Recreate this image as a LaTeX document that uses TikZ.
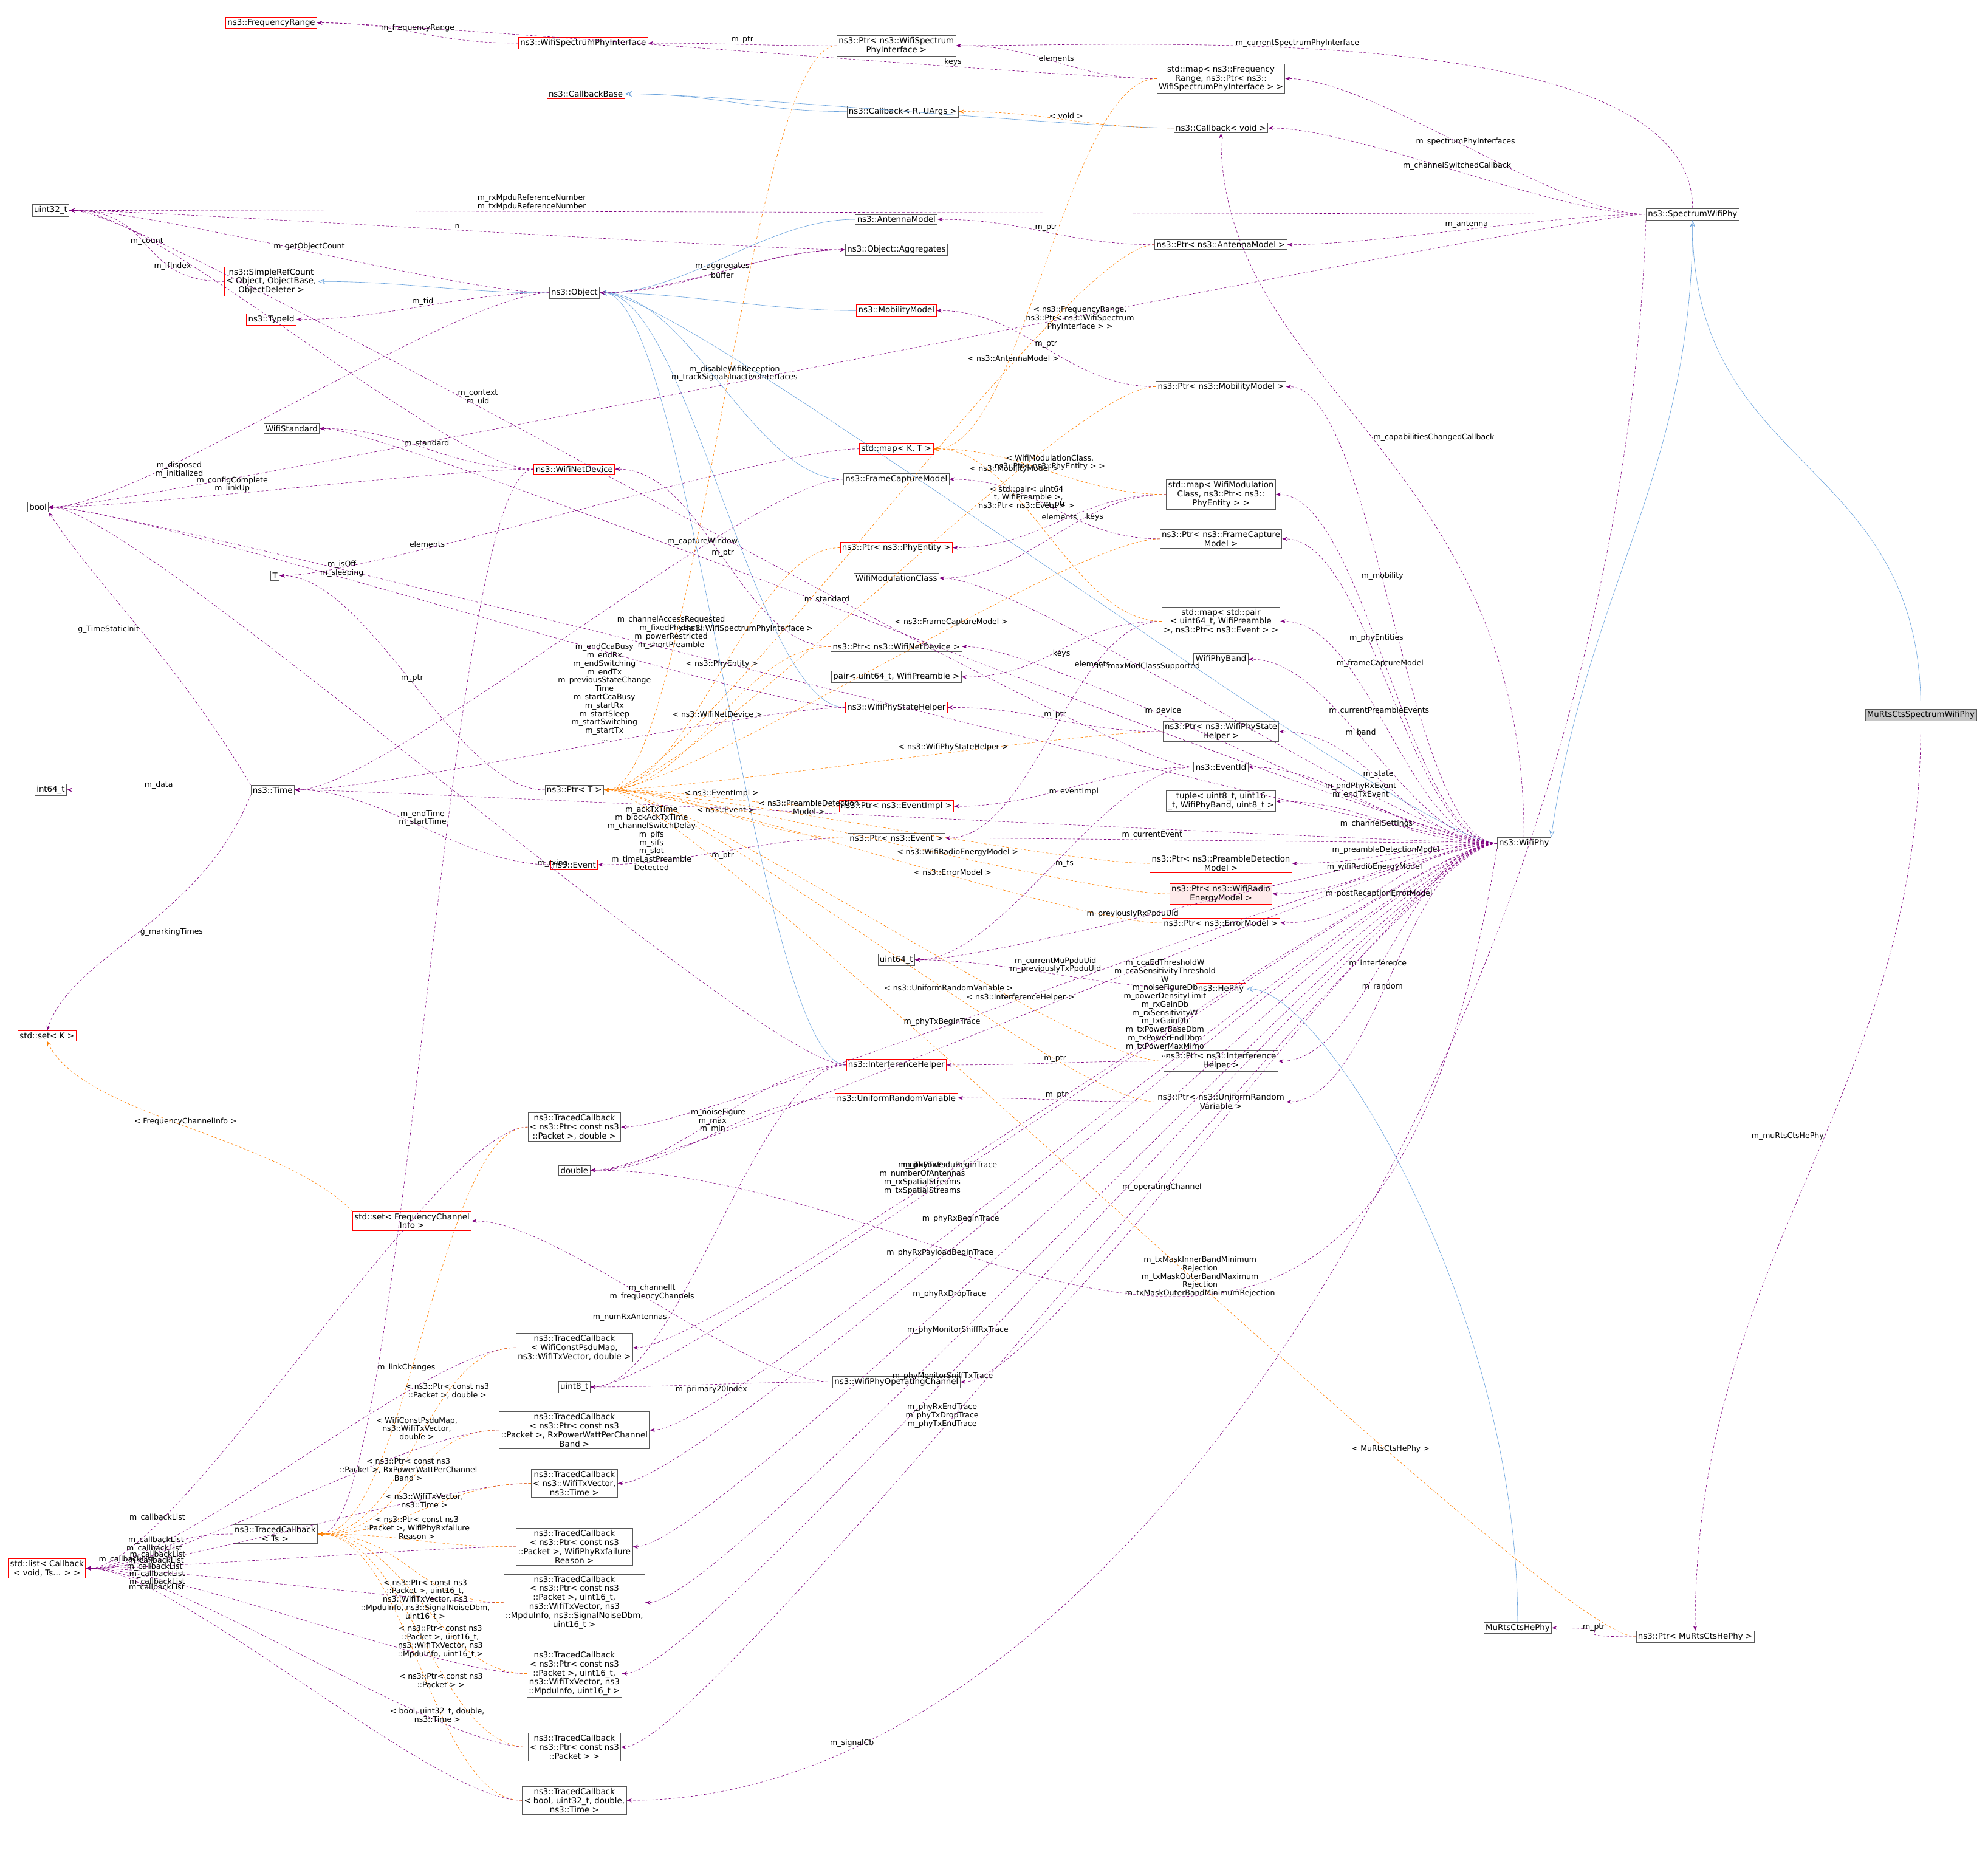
\documentclass[tikz,border=0pt]{standalone}
\usepackage{fontspec}
\setmainfont{DejaVu Sans}
\usetikzlibrary{arrows.meta}
\newcommand\E[6][]{\draw[#2,#1] (#3.west) .. controls +(-70,0) and +(70,0) .. node[lbl,#4]{#5} (#6.east);}
\begin{document}
\begin{tikzpicture}[x=1pt,y=-1pt,
 box/.style={draw=gray!70!black,fill=white,align=center,inner sep=1.4pt,font=\fontsize{6.4}{7.1}\selectfont},
 rbox/.style={box,draw=red},
 use/.style={draw=violet,dash pattern=on 2pt off 1.5pt,line width=0.3pt,-{Stealth[length=4pt]}},
 tpl/.style={draw=orange,dash pattern=on 2pt off 1.5pt,line width=0.3pt,-{Stealth[length=4pt]}},
 inh/.style={draw=cyan!60!blue!60,line width=0.3pt,-{Stealth[length=5.5pt,open]}},
 lbl/.style={font=\fontsize{6}{6.6}\selectfont,align=center,inner sep=0.7pt,midway}]
\useasboundingbox (0,0) rectangle (1568,1470);
\fill[white] (0,0) rectangle (1568,1470);
% nodes
\node[rbox] (FreqRange) at (214,18) {ns3::FrequencyRange};
\node[rbox] (WSPI) at (460,34) {ns3::WifiSpectrumPhyInterface};
\node[box] (PtrWSPI) at (707,36) {ns3::Ptr< ns3::WifiSpectrum\\PhyInterface >};
\node[rbox] (CBBase) at (462,74) {ns3::CallbackBase};
\node[box] (CBRU) at (712,88) {ns3::Callback< R, UArgs >};
\node[box] (mapFreq) at (963,62) {std::map< ns3::Frequency\\Range, ns3::Ptr< ns3::\\WifiSpectrumPhyInterface > >};
\node[box] (CBVoid) at (963,101) {ns3::Callback< void >};
\node[box] (SWP) at (1335,169) {ns3::SpectrumWifiPhy};
\node[box,fill=gray!45] (MuRts) at (1515,564) {MuRtsCtsSpectrumWifiPhy};
\node[box] (u32) at (40,166) {uint32\_t};
\node[box] (Antenna) at (707,173) {ns3::AntennaModel};
\node[box] (Aggr) at (707,197) {ns3::Object::Aggregates};
\node[box] (PtrAnt) at (963,193) {ns3::Ptr< ns3::AntennaModel >};
\node[rbox] (SRC) at (214,222) {ns3::SimpleRefCount\\< Object, ObjectBase,\\ObjectDeleter >};
\node[box] (Object) at (453,231) {ns3::Object};
\node[rbox] (TypeId) at (214,252) {ns3::TypeId};
\node[rbox] (Mobility) at (707,245) {ns3::MobilityModel};
\node[box] (PtrMob) at (963,305) {ns3::Ptr< ns3::MobilityModel >};
\node[box] (Std) at (230,338) {WifiStandard};
\node[box] (bool) at (30,400) {bool};
\node[rbox] (NetDev) at (453,370) {ns3::WifiNetDevice};
\node[rbox] (mapK) at (707,354) {std::map< K, T >};
\node[box] (FCM) at (707,378) {ns3::FrameCaptureModel};
\node[box] (mapWMC) at (963,390) {std::map< WifiModulation\\Class, ns3::Ptr< ns3::\\PhyEntity > >};
\node[rbox] (PtrPE) at (707,432) {ns3::Ptr< ns3::PhyEntity >};
\node[box] (WMC) at (707,456) {WifiModulationClass};
\node[box] (PtrFCM) at (963,425) {ns3::Ptr< ns3::FrameCapture\\Model >};
\node[box] (T) at (217,454) {T};
\node[box] (mapPair) at (963,490) {std::map< std::pair\\< uint64\_t, WifiPreamble\\>, ns3::Ptr< ns3::Event > >};
\node[box] (PtrND) at (707,510) {ns3::Ptr< ns3::WifiNetDevice >};
\node[box] (Band) at (963,520) {WifiPhyBand};
\node[box] (pair) at (707,534) {pair< uint64\_t, WifiPreamble >};
\node[rbox] (PSH) at (707,558) {ns3::WifiPhyStateHelper};
\node[box] (PtrPSH) at (963,577) {ns3::Ptr< ns3::WifiPhyState\\Helper >};
\node[box] (i64) at (40,623) {int64\_t};
\node[box] (Time) at (215,623) {ns3::Time};
\node[box] (PtrT) at (453,623) {ns3::Ptr< T >};
\node[box] (EventId) at (963,605) {ns3::EventId};
\node[box] (tuple) at (963,632) {tuple< uint8\_t, uint16\\\_t, WifiPhyBand, uint8\_t >};
\node[rbox] (PtrEI) at (707,636) {ns3::Ptr< ns3::EventImpl >};
\node[box] (PtrEv) at (707,661) {ns3::Ptr< ns3::Event >};
\node[box] (WifiPhy) at (1202,665) {ns3::WifiPhy};
\node[rbox] (Event) at (453,682) {ns3::Event};
\node[rbox] (PtrPDM) at (963,681) {ns3::Ptr< ns3::PreambleDetection\\Model >};
\node[rbox,fill=red!8] (PtrEn) at (963,705) {ns3::Ptr< ns3::WifiRadio\\EnergyModel >};
\node[rbox] (PtrErr) at (963,728) {ns3::Ptr< ns3::ErrorModel >};
\node[box] (u64) at (707,757) {uint64\_t};
\node[rbox] (HePhy) at (963,780) {ns3::HePhy};
\node[rbox] (setK) at (37,817) {std::set< K >};
\node[rbox] (IH) at (707,840) {ns3::InterferenceHelper};
\node[box] (PtrIH) at (963,837) {ns3::Ptr< ns3::Interference\\Helper >};
\node[rbox] (URV) at (707,866) {ns3::UniformRandomVariable};
\node[box] (PtrURV) at (963,869) {ns3::Ptr< ns3::UniformRandom\\Variable >};
\node[box] (TCpd) at (453,889) {ns3::TracedCallback\\< ns3::Ptr< const ns3\\::Packet >, double >};
\node[box] (double) at (453,923) {double};
\node[rbox] (setFCI) at (325,963) {std::set< FrequencyChannel\\Info >};
\node[box] (TCpsdu) at (453,1063) {ns3::TracedCallback\\< WifiConstPsduMap,\\ns3::WifiTxVector, double >};
\node[box] (u8) at (453,1094) {uint8\_t};
\node[box] (OpCh) at (707,1090) {ns3::WifiPhyOperatingChannel};
\node[box] (TCrxp) at (453,1128) {ns3::TracedCallback\\< ns3::Ptr< const ns3\\::Packet >, RxPowerWattPerChannel\\Band >};
\node[box] (TCtxv) at (453,1170) {ns3::TracedCallback\\< ns3::WifiTxVector,\\ns3::Time >};
\node[box] (TCTs) at (217,1210) {ns3::TracedCallback\\< Ts >};
\node[box] (TCfail) at (453,1220) {ns3::TracedCallback\\< ns3::Ptr< const ns3\\::Packet >, WifiPhyRxfailure\\Reason >};
\node[rbox] (list) at (37,1237) {std::list< Callback\\< void, Ts... > >};
\node[box] (TCsrx) at (453,1264) {ns3::TracedCallback\\< ns3::Ptr< const ns3\\::Packet >, uint16\_t,\\ns3::WifiTxVector, ns3\\::MpduInfo, ns3::SignalNoiseDbm,\\uint16\_t >};
\node[box] (MRHe) at (1197,1284) {MuRtsCtsHePhy};
\node[box] (PtrMR) at (1337,1291) {ns3::Ptr< MuRtsCtsHePhy >};
\node[box] (TCstx) at (453,1320) {ns3::TracedCallback\\< ns3::Ptr< const ns3\\::Packet >, uint16\_t,\\ns3::WifiTxVector, ns3\\::MpduInfo, uint16\_t >};
\node[box] (TCpk) at (453,1378) {ns3::TracedCallback\\< ns3::Ptr< const ns3\\::Packet > >};
\node[box] (TCbool) at (453,1420) {ns3::TracedCallback\\< bool, uint32\_t, double,\\ns3::Time >};
% inheritance
\E{inh}{CBRU}{}{}{CBBase}
\E{inh}{CBVoid}{}{}{CBBase}
\E{inh}{Antenna}{}{}{Object}
\E{inh}{Object}{}{}{SRC}
\E{inh}{Mobility}{}{}{Object}
\E{inh}{FCM}{}{}{Object}
\E{inh}{PSH}{}{}{Object}
\E{inh}{IH}{}{}{Object}
\E{inh}{WifiPhy}{}{}{Object}
\draw[inh] (SWP.south) .. controls +(0,200) and +(30,-200) .. (WifiPhy.north east);
\draw[inh] (MuRts.north) .. controls +(0,-200) and +(0,200) .. (SWP.south);
\draw[inh] (MRHe.north) .. controls +(0,-250) and +(60,0) .. (HePhy.east);
% usage
\E{use}{WSPI}{above}{m\_frequencyRange}{FreqRange}
\E{use}{PtrWSPI}{above}{m\_ptr}{WSPI}
\E{use}{mapFreq}{above,pos=0.3}{keys}{FreqRange}
\E{use}{mapFreq}{above}{elements}{PtrWSPI}
\draw[use] (SWP.north) .. controls +(0,-150) and +(150,0) .. node[lbl,above,pos=0.6]{m\_currentSpectrumPhyInterface} (PtrWSPI.east);
\E{use}{SWP}{above}{m\_spectrumPhyInterfaces}{mapFreq}
\E{use}{SWP}{above}{m\_channelSwitchedCallback}{CBVoid}
\E{use}{SWP}{above,pos=0.65}{m\_rxMpduReferenceNumber\\m\_txMpduReferenceNumber}{u32}
\E{use}{SWP}{above,pos=0.55}{m\_disableWifiReception\\m\_trackSignalsInactiveInterfaces}{bool}
\E{use}{SWP}{above}{m\_antenna}{PtrAnt}
\draw[use] (SWP.south west) .. controls +(-20,600) and +(400,0) .. node[lbl,above,pos=0.85]{m\_signalCb} (TCbool.east);
\draw[use] (MuRts.south) .. controls +(0,300) and +(0,-300) .. node[lbl,left,pos=0.45]{m\_muRtsCtsHePhy} (PtrMR.north);
\E{use}{PtrMR}{above}{m\_ptr}{MRHe}
\E{use}{PtrAnt}{above}{m\_ptr}{Antenna}
\E{use}{Aggr}{above}{n}{u32}
\E{use}{Aggr}{below}{buffer}{Object}
\draw[use] (Object.east) .. controls +(60,0) and +(-60,0) .. node[lbl,above]{m\_aggregates} (Aggr.west);
\E{use}{Object}{above}{m\_getObjectCount}{u32}
\E{use}{SRC}{above}{m\_count}{u32}
\E{use}{Object}{above}{m\_tid}{TypeId}
\E{use}{Object}{below,pos=0.7}{m\_disposed\\m\_initialized}{bool}
\E{use}{PtrMob}{above}{m\_ptr}{Mobility}
\E{use}{NetDev}{above}{m\_standard}{Std}
\E{use}{NetDev}{left,pos=0.7}{m\_ifIndex}{u32}
\E{use}{NetDev}{above,pos=0.6}{m\_configComplete\\m\_linkUp}{bool}
\E{use}{NetDev}{right,pos=0.75}{m\_linkChanges}{TCTs}
\E{use}{FCM}{above,pos=0.3}{m\_captureWindow}{Time}
\E{use}{mapK}{above,pos=0.7}{elements}{T}
\E{use}{mapWMC}{above}{elements}{PtrPE}
\E{use}{mapWMC}{below,pos=0.3}{keys}{WMC}
\E{use}{PtrFCM}{above}{m\_ptr}{FCM}
\E{use}{PtrT}{above}{m\_ptr}{T}
\E{use}{mapPair}{below}{keys}{pair}
\E{use}{mapPair}{above,pos=0.3}{elements}{PtrEv}
\E{use}{PtrND}{above}{m\_ptr}{NetDev}
\E{use}{PSH}{above,pos=0.45}{m\_endCcaBusy\\m\_endRx\\m\_endSwitching\\m\_endTx\\m\_previousStateChange\\Time\\m\_startCcaBusy\\m\_startRx\\m\_startSleep\\m\_startSwitching\\m\_startTx\\...}{Time}
\E{use}{PSH}{above,pos=0.6}{m\_isOff\\m\_sleeping}{bool}
\E{use}{PtrPSH}{above}{m\_ptr}{PSH}
\E{use}{EventId}{above,pos=0.6}{m\_context\\m\_uid}{u32}
\E{use}{EventId}{below}{m\_eventImpl}{PtrEI}
\E{use}{EventId}{right}{m\_ts}{u64}
\E{use}{Time}{above}{m\_data}{i64}
\draw[use] (Time.north west) .. controls +(-60,-100) and +(40,60) .. node[lbl,left]{g\_TimeStaticInit} (bool.south east);
\draw[use] (Time.south west) .. controls +(-40,100) and +(20,-60) .. node[lbl,right]{g\_markingTimes} (setK.north);
\E{use}{Event}{above}{m\_endTime\\m\_startTime}{Time}
\E{use}{PtrEv}{below}{m\_ptr}{Event}
\E{use}{IH}{above,pos=0.4}{m\_rxing}{bool}
\E{use}{IH}{above}{m\_noiseFigure}{double}
\E{use}{IH}{left,pos=0.7}{m\_numRxAntennas}{u8}
\E{use}{PtrIH}{above}{m\_ptr}{IH}
\E{use}{URV}{above}{m\_max\\m\_min}{double}
\E{use}{PtrURV}{above}{m\_ptr}{URV}
\E{use}{HePhy}{above}{m\_currentMuPpduUid\\m\_previouslyTxPpduUid}{u64}
\E{use}{OpCh}{above}{m\_channelIt\\m\_frequencyChannels}{setFCI}
\E{use}{OpCh}{below}{m\_primary20Index}{u8}
\foreach \n in {TCpd,TCpsdu,TCrxp,TCtxv,TCTs,TCfail,TCsrx,TCstx,TCpk,TCbool}{\E{use}{\n}{above,pos=0.8}{m\_callbackList}{list}}
% WifiPhy usage
\draw[use] (WifiPhy.north) .. controls +(0,-300) and +(0,200) .. node[lbl,right,pos=0.5]{m\_capabilitiesChangedCallback} (CBVoid.south);
\E{use}{WifiPhy}{above,pos=0.55}{m\_mobility}{PtrMob}
\E{use}{WifiPhy}{above,pos=0.55}{m\_standard}{Std}
\E{use}{WifiPhy}{above,pos=0.55}{m\_phyEntities}{mapWMC}
\E{use}{WifiPhy}{above,pos=0.55}{m\_frameCaptureModel}{PtrFCM}
\E{use}{WifiPhy}{above,pos=0.6}{m\_device}{PtrND}
\E{use}{WifiPhy}{above,pos=0.55}{m\_currentPreambleEvents}{mapPair}
\E{use}{WifiPhy}{above,pos=0.55}{m\_band}{Band}
\E{use}{WifiPhy}{above,pos=0.6}{m\_maxModClassSupported}{WMC}
\E{use}{WifiPhy}{above,pos=0.55}{m\_state}{PtrPSH}
\E{use}{WifiPhy}{above,pos=0.55}{m\_endPhyRxEvent\\m\_endTxEvent}{EventId}
\E{use}{WifiPhy}{below,pos=0.55}{m\_channelSettings}{tuple}
\E{use}{WifiPhy}{above,pos=0.6}{m\_currentEvent}{PtrEv}
\E{use}{WifiPhy}{above,pos=0.55}{m\_preambleDetectionModel}{PtrPDM}
\E{use}{WifiPhy}{above,pos=0.55}{m\_wifiRadioEnergyModel}{PtrEn}
\E{use}{WifiPhy}{below,pos=0.55}{m\_postReceptionErrorModel}{PtrErr}
\E{use}{WifiPhy}{above,pos=0.6}{m\_previouslyRxPpduUid}{u64}
\E{use}{WifiPhy}{above,pos=0.55}{m\_interference}{PtrIH}
\E{use}{WifiPhy}{above,pos=0.55}{m\_random}{PtrURV}
\E{use}{WifiPhy}{above,pos=0.6}{m\_phyTxBeginTrace}{TCpd}
\E{use}{WifiPhy}{below,pos=0.4}{m\_ccaEdThresholdW\\m\_ccaSensitivityThreshold\\W\\m\_noiseFigureDb\\m\_powerDensityLimit\\m\_rxGainDb\\m\_rxSensitivityW\\m\_txGainDb\\m\_txPowerBaseDbm\\m\_txPowerEndDbm\\m\_txPowerMaxMimo\\...}{double}
\E{use}{WifiPhy}{below,pos=0.65}{m\_ackTxTime\\m\_blockAckTxTime\\m\_channelSwitchDelay\\m\_pifs\\m\_sifs\\m\_slot\\m\_timeLastPreamble\\Detected}{Time}
\E{use}{WifiPhy}{above,pos=0.6}{m\_phyTxPsduBeginTrace}{TCpsdu}
\E{use}{WifiPhy}{above,pos=0.6}{m\_operatingChannel}{OpCh}
\E{use}{WifiPhy}{above,pos=0.6}{m\_nTxPower\\m\_numberOfAntennas\\m\_rxSpatialStreams\\m\_txSpatialStreams}{u8}
\E{use}{WifiPhy}{above,pos=0.6}{m\_phyRxBeginTrace}{TCrxp}
\E{use}{WifiPhy}{above,pos=0.6}{m\_phyRxPayloadBeginTrace}{TCtxv}
\E{use}{WifiPhy}{above,pos=0.6}{m\_phyRxDropTrace}{TCfail}
\E{use}{WifiPhy}{above,pos=0.6}{m\_phyMonitorSniffRxTrace}{TCsrx}
\E{use}{WifiPhy}{above,pos=0.6}{m\_phyMonitorSniffTxTrace}{TCstx}
\E{use}{WifiPhy}{above,pos=0.6}{m\_phyRxEndTrace\\m\_phyTxDropTrace\\m\_phyTxEndTrace}{TCpk}
\draw[use] (WifiPhy.south west) .. controls +(-100,600) and +(300,0) .. node[lbl,left,pos=0.35]{m\_txMaskInnerBandMinimum\\Rejection\\m\_txMaskOuterBandMaximum\\Rejection\\m\_txMaskOuterBandMinimumRejection} (double.east);
\E{use}{WifiPhy}{above,pos=0.55}{m\_channelAccessRequested\\m\_fixedPhyBand\\m\_powerRestricted\\m\_shortPreamble}{bool}
% templates
\E{tpl}{CBVoid}{above}{< void >}{CBRU}
\E{tpl}{mapFreq}{right,pos=0.6}{< ns3::FrequencyRange,\\ns3::Ptr< ns3::WifiSpectrum\\PhyInterface > >}{mapK}
\E{tpl}{mapWMC}{above}{< WifiModulationClass,\\ns3::Ptr< ns3::PhyEntity > >}{mapK}
\E{tpl}{mapPair}{above,pos=0.6}{< std::pair< uint64\\\_t, WifiPreamble >,\\ns3::Ptr< ns3::Event > >}{mapK}
\E{tpl}{PtrWSPI}{right,pos=0.7}{< ns3::WifiSpectrumPhyInterface >}{PtrT}
\E{tpl}{PtrAnt}{above,pos=0.3}{< ns3::AntennaModel >}{PtrT}
\E{tpl}{PtrMob}{above,pos=0.3}{< ns3::MobilityModel >}{PtrT}
\E{tpl}{PtrPE}{above}{< ns3::PhyEntity >}{PtrT}
\E{tpl}{PtrFCM}{above,pos=0.4}{< ns3::FrameCaptureModel >}{PtrT}
\E{tpl}{PtrND}{above}{< ns3::WifiNetDevice >}{PtrT}
\E{tpl}{PtrPSH}{above,pos=0.4}{< ns3::WifiPhyStateHelper >}{PtrT}
\E{tpl}{PtrEI}{above}{< ns3::EventImpl >}{PtrT}
\E{tpl}{PtrEv}{above}{< ns3::Event >}{PtrT}
\E{tpl}{PtrPDM}{above,pos=0.6}{< ns3::PreambleDetection\\Model >}{PtrT}
\E{tpl}{PtrEn}{above,pos=0.4}{< ns3::WifiRadioEnergyModel >}{PtrT}
\E{tpl}{PtrErr}{above,pos=0.4}{< ns3::ErrorModel >}{PtrT}
\E{tpl}{PtrIH}{above,pos=0.3}{< ns3::InterferenceHelper >}{PtrT}
\E{tpl}{PtrURV}{above,pos=0.4}{< ns3::UniformRandomVariable >}{PtrT}
\E{tpl}{PtrMR}{above,pos=0.3}{< MuRtsCtsHePhy >}{PtrT}
\draw[tpl] (setFCI.north west) .. controls +(-60,-60) and +(30,60) .. node[lbl,above]{< FrequencyChannelInfo >} (setK.south);
\E{tpl}{TCpd}{right,pos=0.6}{< ns3::Ptr< const ns3\\::Packet >, double >}{TCTs}
\E{tpl}{TCpsdu}{above}{< WifiConstPsduMap,\\ns3::WifiTxVector,\\double >}{TCTs}
\E{tpl}{TCrxp}{above}{< ns3::Ptr< const ns3\\::Packet >, RxPowerWattPerChannel\\Band >}{TCTs}
\E{tpl}{TCtxv}{above}{< ns3::WifiTxVector,\\ns3::Time >}{TCTs}
\E{tpl}{TCfail}{above}{< ns3::Ptr< const ns3\\::Packet >, WifiPhyRxfailure\\Reason >}{TCTs}
\E{tpl}{TCsrx}{below,pos=0.4}{< ns3::Ptr< const ns3\\::Packet >, uint16\_t,\\ns3::WifiTxVector, ns3\\::MpduInfo, ns3::SignalNoiseDbm,\\uint16\_t >}{TCTs}
\E{tpl}{TCstx}{below,pos=0.4}{< ns3::Ptr< const ns3\\::Packet >, uint16\_t,\\ns3::WifiTxVector, ns3\\::MpduInfo, uint16\_t >}{TCTs}
\E{tpl}{TCpk}{below,pos=0.4}{< ns3::Ptr< const ns3\\::Packet > >}{TCTs}
\E{tpl}{TCbool}{below,pos=0.4}{< bool, uint32\_t, double,\\ns3::Time >}{TCTs}
\end{tikzpicture}
\end{document}
